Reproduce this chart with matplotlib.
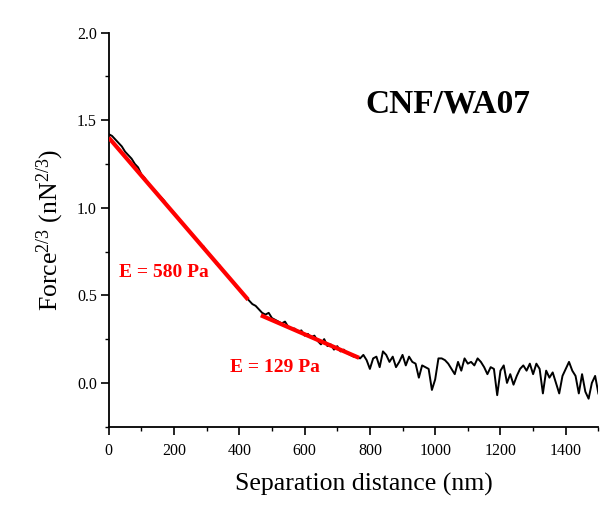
import numpy as np
import matplotlib
matplotlib.use("Agg")
import matplotlib.pyplot as plt
from matplotlib.ticker import MultipleLocator

plt.rcParams['font.family'] = ['Liberation Serif', 'DejaVu Serif']
plt.rcParams['mathtext.fontset'] = 'custom'
plt.rcParams['mathtext.rm'] = 'Liberation Serif'
plt.rcParams['mathtext.it'] = 'Liberation Serif:italic'
plt.rcParams['mathtext.bf'] = 'Liberation Serif:bold'

# separation distance (nm), every 10 nm
sep = np.arange(0, 1501, 10)

# force^(2/3)
force = [
    1.42, 1.41, 1.39, 1.37, 1.35, 1.32, 1.30, 1.28, 1.25, 1.23,
    1.19, 1.17, 1.14, 1.12, 1.10, 1.08, 1.06, 1.04, 1.01, 0.99,
    0.97, 0.95, 0.92, 0.90, 0.88, 0.86, 0.84, 0.82, 0.79, 0.78,
    0.75, 0.73, 0.71, 0.68, 0.67, 0.64, 0.62, 0.60, 0.58, 0.55,
    0.53, 0.51, 0.49, 0.47, 0.45, 0.44, 0.42, 0.40, 0.39, 0.40,
    0.37, 0.36, 0.35, 0.34, 0.35, 0.32, 0.31, 0.31, 0.29, 0.30,
    0.27, 0.28, 0.26, 0.27, 0.24, 0.22, 0.25, 0.21, 0.22, 0.19,
    0.21, 0.18, 0.19, 0.17, 0.16, 0.15, 0.15, 0.14, 0.16, 0.13,
    0.08, 0.14, 0.15, 0.09, 0.18, 0.16, 0.12, 0.15, 0.09, 0.12,
    0.16, 0.10, 0.15, 0.12, 0.11, 0.03, 0.10, 0.09, 0.08, -0.04,
    0.02, 0.14, 0.14, 0.13, 0.11, 0.08, 0.05, 0.12, 0.07, 0.14,
    0.11, 0.12, 0.10, 0.14, 0.12, 0.09, 0.05, 0.09, 0.08, -0.07,
    0.07, 0.10, 0.00, 0.05, -0.01, 0.04, 0.08, 0.10, 0.07, 0.11,
    0.05, 0.11, 0.08, -0.06, 0.07, 0.03, 0.06, 0.00, -0.06, 0.04,
    0.08, 0.12, 0.07, 0.04, -0.06, 0.05, -0.05, -0.09, 0.00, 0.04,
    -0.06,
]

# linear fits
fit1_x = [0, 427]
fit1_y = [1.40, 0.475]
fit2_x = [466, 767]
fit2_y = [0.386, 0.143]

fig = plt.figure(figsize=(6.15, 5.05), dpi=100)
ax = fig.add_axes([0.1768, 0.155, 0.7962, 0.7806])

ax.plot(sep, force, color='black', lw=1.4, zorder=2)
ax.plot(fit1_x, fit1_y, color='#ff0000', lw=3, solid_capstyle='butt', zorder=3)
ax.plot(fit2_x, fit2_y, color='#ff0000', lw=3, solid_capstyle='butt', zorder=3)

ax.set_xlim(0, 1500)
ax.set_ylim(-0.25, 2.0)
ax.xaxis.set_major_locator(MultipleLocator(200))
ax.xaxis.set_minor_locator(MultipleLocator(100))
ax.yaxis.set_major_locator(MultipleLocator(0.5))
ax.yaxis.set_minor_locator(MultipleLocator(0.25))
ax.yaxis.set_major_formatter(matplotlib.ticker.FormatStrFormatter('%.1f'))

ax.spines['top'].set_visible(False)
ax.spines['right'].set_visible(False)
ax.spines['left'].set_linewidth(1.3)
ax.spines['bottom'].set_linewidth(1.3)
ax.tick_params(which='major', direction='out', length=6, width=1.2, labelsize=11.5)
ax.tick_params(which='minor', direction='out', length=3, width=1.0)
ax.tick_params(axis='x', which='major', pad=5.5)
ax.tick_params(axis='y', which='major', pad=2.5)

ax.set_xlabel('Separation distance (nm)', fontsize=18.5)
ax.set_ylabel('Force$^{2/3}$ (nN$^{2/3}$)', fontsize=18.5, labelpad=8)
ax.xaxis.set_label_coords(0.521, -0.117)

ax.text(785, 1.59, 'CNF/WA07', fontsize=24, fontweight='bold', va='center', ha='left')
ax.text(32, 0.63, 'E = 580 Pa', fontsize=14, fontweight='bold', color='#ff0000', va='center')
ax.text(372, 0.09, 'E = 129 Pa', fontsize=14, fontweight='bold', color='#ff0000', va='center')

fig.savefig('out.png', dpi=100)
